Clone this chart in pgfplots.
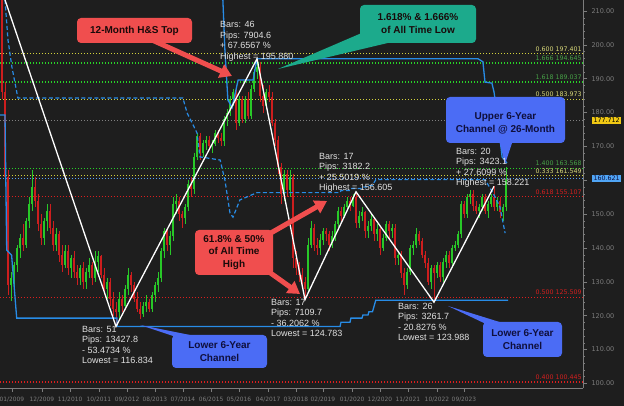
\documentclass[border=0pt]{standalone}
\usepackage{fontspec}
\setmainfont{Liberation Sans}
\newfontfamily\dvs{DejaVu Sans}
\usepackage{pgfplots}
\usepackage{pgfplotstable}
\pgfplotsset{compat=1.18}
\usetikzlibrary{arrows.meta}
\definecolor{bg}{RGB}{30,30,30}
\definecolor{cgreen}{RGB}{40,200,40}
\definecolor{cred}{RGB}{205,30,30}
\definecolor{lvlyellow}{RGB}{210,210,60}
\definecolor{lvlgreen}{RGB}{40,210,40}
\definecolor{lvlred}{RGB}{220,30,30}
\definecolor{lblyellow}{RGB}{215,215,120}
\definecolor{lblgreen}{RGB}{70,160,70}
\definecolor{lblred}{RGB}{210,30,30}
\definecolor{chblue}{RGB}{40,140,230}
\definecolor{dotblue}{RGB}{90,160,240}
\definecolor{calred}{RGB}{240,78,78}
\definecolor{calteal}{RGB}{28,170,140}
\definecolor{calblue}{RGB}{75,108,245}
\definecolor{axgray}{RGB}{125,125,125}
\definecolor{txtgray}{RGB}{225,225,225}
\definecolor{tagyellow}{RGB}{240,200,20}
\definecolor{tagblue}{RGB}{80,165,245}
\definecolor{darktxt}{RGB}{25,10,10}
\definecolor{navytxt}{RGB}{15,15,60}

\pgfplotstableread{
i o h l c
0 211.5 216 210 215
4 129 133 124.5 131
5 131 136 128 135
6 135 141 133 140
7 140 144 137 143
9 141 149 140 148
10 148 155 146 153
11 153 163 151 158
15 143 149 141 148
16 148 153 145 151
19 141 146 139 144
22 135 141 134 139
24 134 138 131 137
27 131 135 129 134
29 130 134 128 133
30 133 137 131 135
32 131 139 130 136
33 136 139 133 137.5
36 128 131 125 130
40 121 127 119 125
42 123 129 122 128
43 128 134 126 132
48 120.5 124 119.5 123
49 123 126 121 124
51 122 127 121 126
52 126 130 124 129
53 129 133 127 131
54 131 140 130 139
55 139 146 137 145
57 141 145 138 143.5
58 143.5 155 142 153
59 153 156 150 154
62 149 153 147 152
63 152 160 151 159
65 157.5 168 156 167
66 167 174 166 173
68 168 172 167 171
69 171 173 169 172
71 170 172 168 170.8
72 170.8 175 170 174
75 171.5 179 170 178
76 178 181 176 180
77 180 185 179 184
78 184 187 182 186
80 177 185 176 184
82 178 185 177 184
84 179 188 178 187
85 187 193 186 192
86 192 195.88 190 193.5
89 182 187 181 186
95 156 163 154 162
97 157 163 155 161
103 128 143 127 141
104 141 148 140 146
107 140 144 138 142.5
108 142.5 146 141 145
111 141 145 140 143.5
112 143.5 148 142 147
113 147 152 146 151
115 149.5 153 149 152
116 152 155 151 154
118 152.5 156 152 155
120 147.5 151 146 149.5
121 149.5 152 148 150.5
123 145 148 143 146.5
124 146.5 150 145 148.5
126 144 147 142 145.5
128 140 144 139 143
129 143 148 142 147
131 145 147 143 146
133 137 139 135 138
136 129 134 128 133
137 133 141 132 140
138 140 142 138 141
139 141 146 140 144
144 130 135 128 134
146 132.5 136 131 135
148 131.5 137 130 136
149 136 139 134 138
151 135.5 141 134 140
152 140 142 139 141
153 141 145 140 144
154 144 154 143 153
156 150 156 149 155
157 155 157 153 156
160 151 153 149 152
161 152 156 151 155
163 151 154 149 153
164 153 156 152 155
166 152 155 151 154
168 150.5 153 148 152
169 152 164 151 160
}\greencandles

\pgfplotstableread{
i o h l c
1 215 216 184 186
2 186 189 158 161
3 161 163 126 129
8 143 147 139 141
12 158 161 152 154
13 154 156 145 147
14 147 150 141 143
17 151 153 144 146
18 146 148 139 141
20 144 145 136 138
21 138 141 133 135
23 139 141 132 134
25 137 139 131 133
26 133 135 129 131
28 134 136 128 130
31 135 136 129 131
34 137.5 138 131 132
35 132 134 126 128
37 130 131 123 125
38 125 127 120 122
39 122 124 116.834 121
41 125 126 121 123
44 132 133 127 129
45 129 130 124 125
46 125 127 121 122
47 122 124 119 120.5
50 124 125 121 122
56 145 146 139 141
60 154 155 148 150
61 150 151 146 149
64 159 161 155 157.5
67 173 174 166 168
70 172 173 169 170
73 174 175 171 172.5
74 172.5 174 170 171.5
79 186 187 175 177
81 184 185 177 178
83 184 186 178 179
87 193.5 195 183 185
88 185 188 180 182
90 186 188 183 184.5
91 184.5 186 176 177
92 177 178 170 172
93 172 173 162 164
94 164 165 153 156
96 162 163 155 157
98 161 162 134 137
99 137 139 132 134
100 134 136 130 132
101 132 134 128 130
102 130 131.5 124.783 128
105 146 147 139 141
106 141 143 138 140
109 145 146 142 144
110 144 145 139 141
114 151 152 148 149.5
117 154 155 151 152.5
119 155 156.605 146 147.5
122 150.5 151 143 145
125 148.5 149 142 144
127 145.5 146 138 140
130 147 148 143 145
132 146 147 135 137
134 138 139 131 132.5
135 132.5 134 126 129
140 144 145 141 142
141 142 143 137 138
142 138 139 134 135.5
143 135.5 137 129 130
145 134 135 123.988 132.5
147 135 136 130 131.5
150 138 139 134 135.5
155 153 154 149 150
158 156 157 151 152.5
159 152.5 154 150 151
162 155 156 150 151
165 155 158.221 151 152
167 154 155 149 150.5
}\redcandles

\begin{document}
\begin{tikzpicture}
\useasboundingbox (0pt,0pt) rectangle (624pt,406pt);
\fill[bg] (0pt,0pt) rectangle (624pt,406pt);
\begin{axis}[
  at={(0pt,18pt)}, anchor=south west,
  scale only axis, width=583pt, height=388pt,
  xmin=0.3333, xmax=194.6667, ymin=98.66, ymax=213.25,
  axis x line*=bottom, axis y line*=right,
  axis line style={-, draw=axgray, line width=0.6pt},
  ytick={100,110,...,210},
  yticklabels={100.00,110.00,120.00,130.00,140.00,150.00,{},170.00,180.00,190.00,200.00,210.00},
  xtick={4.33,14.33,23.67,33.33,42.67,52,61.33,70.67,80,89.67,99,108,117.67,127,136.33,146,155},
  xticklabels={01/2009,12/2009,11/2010,10/2011,09/2012,08/2013,07/2014,06/2015,05/2016,04/2017,03/2018,02/2019,01/2020,12/2020,11/2021,10/2022,09/2023},
  minor x tick num=2, minor y tick num=4,
  tick align=outside,
  major tick length=4pt, minor tick length=2pt,
  tick style={draw=axgray, line width=0.5pt},
  yticklabel style={font=\dvs\fontsize{6.5}{7}\selectfont, text=axgray, xshift=1pt},
  xticklabel style={font=\dvs\fontsize{5.9}{6.5}\selectfont, text=axgray, yshift=-1.5pt},
  clip mode=individual,
]
% level lines
\addplot[lvlyellow, line width=1.1pt, dash pattern=on 1.3pt off 1.7pt] coordinates {(0.3333,197.401) (194.4,197.401)};
\addplot[lvlgreen, line width=1.1pt, dash pattern=on 1.3pt off 1.7pt] coordinates {(0.3333,194.645) (194.4,194.645)};
\addplot[lvlgreen, line width=1.1pt, dash pattern=on 1.3pt off 1.7pt] coordinates {(0.3333,189.037) (194.4,189.037)};
\addplot[lvlyellow, line width=1.1pt, dash pattern=on 1.3pt off 1.7pt] coordinates {(0.3333,183.973) (194.4,183.973)};
\addplot[gray, line width=0.9pt, dash pattern=on 1.3pt off 1.7pt] coordinates {(0.3333,177.712) (194.4,177.712)};
\addplot[lvlgreen, line width=1.1pt, dash pattern=on 1.3pt off 1.7pt] coordinates {(0.3333,163.568) (194.4,163.568)};
\addplot[lvlyellow, line width=1.1pt, dash pattern=on 1.3pt off 1.7pt] coordinates {(0.3333,161.549) (194.4,161.549)};
\addplot[dotblue, line width=1.0pt, dash pattern=on 1.3pt off 1.7pt] coordinates {(0.3333,160.621) (194.4,160.621)};
\addplot[lvlred, line width=1.1pt, dash pattern=on 1.3pt off 1.7pt] coordinates {(0.3333,155.107) (194.4,155.107)};
\addplot[lvlred, line width=1.1pt, dash pattern=on 1.3pt off 1.7pt] coordinates {(0.3333,125.509) (194.4,125.509)};
\addplot[lvlred, line width=1.1pt, dash pattern=on 1.3pt off 1.7pt] coordinates {(0.3333,100.445) (194.4,100.445)};
% candles: wicks and bodies
\addplot[draw=none, mark=none, forget plot, error bars/.cd, y dir=both, y explicit, error mark=none,
  error bar style={draw=cgreen, line width=0.8pt, solid}]
  table[x=i, y expr={(\thisrow{h}+\thisrow{l})/2}, y error expr={(\thisrow{h}-\thisrow{l})/2}] {\greencandles};
\addplot[draw=none, mark=none, forget plot, error bars/.cd, y dir=both, y explicit, error mark=none,
  error bar style={draw=cgreen, line width=2.5pt, solid}]
  table[x=i, y expr={(\thisrow{o}+\thisrow{c})/2}, y error expr={(\thisrow{c}-\thisrow{o})/2}] {\greencandles};
\addplot[draw=none, mark=none, forget plot, error bars/.cd, y dir=both, y explicit, error mark=none,
  error bar style={draw=cred, line width=0.8pt, solid}]
  table[x=i, y expr={(\thisrow{h}+\thisrow{l})/2}, y error expr={(\thisrow{h}-\thisrow{l})/2}] {\redcandles};
\addplot[draw=none, mark=none, forget plot, error bars/.cd, y dir=both, y explicit, error mark=none,
  error bar style={draw=cred, line width=2.5pt, solid}]
  table[x=i, y expr={(\thisrow{o}+\thisrow{c})/2}, y error expr={(\thisrow{o}-\thisrow{c})/2}] {\redcandles};
% channel lines
\addplot[chblue, line width=1.3pt] coordinates {(0.3333,179.3) (2,179.3) (2.57,139.4) (4.2,137.9) (5.9,119.3) (39.3,119.3) (39.4,116.834) (113.7,116.834) (114,118.1) (117,118.1) (117.3,119.3) (121,119.3) (121.3,120.2) (123,120.2) (123.3,121.2) (124.5,121.2) (125.6,124.6) (169.7,124.6)};
\addplot[chblue, line width=1.3pt] coordinates {(74.5,216) (75.3,198.5) (76.3,183.7) (77.7,181.5) (79.7,189.6) (84.7,189.6) (86,195.88) (159.7,195.88) (161.3,195) (162,189) (164.3,188.7) (165,186.1) (166,179.9) (167.7,166.9) (169.3,165.1)};
\addplot[chblue, line width=1.2pt, dash pattern=on 4pt off 2.5pt] coordinates {(2,213.25) (3,201.4) (4.3,193.5) (6.3,184.3) (61.3,184.3) (62.7,179.9) (66,174.0) (67,166.9) (69.3,166.6) (73.7,166.0) (75.3,160.1) (77,150.3) (78,149.1) (80.3,154.2) (86,156.36) (113.7,156.36) (114,157) (117,157) (117.3,157.6) (121,157.6) (121.3,158) (123,158) (123.3,158.5) (124.5,158.5) (125.6,160.2) (162,160.2) (164.7,156.2) (167,152.1) (168.7,144.4)};
% zigzag
\addplot[white, line width=1.3pt] coordinates {(0.5,217.2) (39,116.834) (86,195.88) (102,124.783) (119,156.605) (145,123.988) (165,158.221)};
% level labels
\begin{scope}[every node/.style={anchor=south east, inner sep=0pt, font=\dvs\fontsize{6.3}{7}\selectfont}]
\node[text=lblyellow] at (axis cs:194.3,198.1) {0.600 197.401};
\node[text=lblgreen] at (axis cs:194.3,195.3) {1.666 194.645};
\node[text=lblgreen] at (axis cs:194.3,189.7) {1.618 189.037};
\node[text=lblyellow] at (axis cs:194.3,184.6) {0.500 183.973};
\node[text=lblgreen] at (axis cs:194.3,164.2) {1.400 163.568};
\node[text=lblyellow] at (axis cs:194.3,162.0) {0.333 161.549};
\node[text=lblred] at (axis cs:194.3,155.8) {0.618 155.107};
\node[text=lblred] at (axis cs:194.3,126.2) {0.500 125.509};
\node[text=lblred] at (axis cs:194.3,101.1) {0.400 100.445};
\end{scope}
% price tags on the axis
\node[fill=tagyellow, text=black, inner xsep=1.5pt, inner ysep=1pt, anchor=west, font=\dvs\fontsize{6.3}{7}\selectfont] at ([xshift=9pt]axis cs:194.6667,177.712) {177.712};
\node[fill=tagblue, text=navytxt, inner xsep=1.5pt, inner ysep=1pt, anchor=west, font=\dvs\fontsize{6.3}{7}\selectfont] at ([xshift=9pt]axis cs:194.6667,160.621) {160.621};
\end{axis}

\begin{scope}[shift={(0pt,406pt)}, x=1pt, y=-1pt]
% 12-Month H&S Top
\draw[calred, line width=5pt, -{Triangle[length=12pt,width=14pt]}] (152,40) -- (232,76);
\fill[calred, rounded corners=4pt] (77,18) rectangle (192,43);
\node[font=\bfseries\fontsize{10}{12}\selectfont, text=darktxt] at (134.5,30.5) {12-Month H\&S Top};
% teal callout
\fill[calteal] (278,69) -- (364,32) -- (392,42) -- cycle;
\fill[calteal, rounded corners=4pt] (360,5) rectangle (476,43);
\node[align=center, font=\bfseries\fontsize{10}{13}\selectfont, text=darktxt] at (418,24) {1.618\% \& 1.666\%\\of All Time Low};
% 61.8 % callout
\draw[calred, line width=5pt, -{Triangle[length=12pt,width=14pt]}] (262,238) -- (327,201);
\draw[calred, line width=5pt, -{Triangle[length=12pt,width=14pt]}] (262,267) -- (300,294);
\fill[calred, rounded corners=4pt] (195,230) rectangle (273,275);
\node[align=center, font=\bfseries\fontsize{10}{12.5}\selectfont, text=darktxt] at (234,252.5) {61.8\% \& 50\%\\of All Time\\High};
% lower channel left
\fill[calblue] (140,325) -- (176,337) -- (200,337) -- cycle;
\fill[calblue, rounded corners=4pt] (172,335) rectangle (267,368);
\node[align=center, font=\bfseries\fontsize{10}{12.5}\selectfont, text=navytxt] at (219.5,351.5) {Lower 6-Year\\Channel};
% lower channel right
\fill[calblue] (448,306) -- (486,324) -- (506,324) -- cycle;
\fill[calblue, rounded corners=4pt] (483,322) rectangle (562,357);
\node[align=center, font=\bfseries\fontsize{10}{12.5}\selectfont, text=navytxt] at (522.5,339.5) {Lower 6-Year\\Channel};
% upper channel
\fill[calblue] (499,140) -- (513,140) -- (505,164) -- cycle;
\fill[calblue, rounded corners=4pt] (446,97) rectangle (565,143);
\node[align=center, font=\bfseries\fontsize{10}{12.5}\selectfont, text=navytxt] at (505.5,123.5) {Upper 6-Year\\Channel @ 26-Month};
% swing statistics
\begin{scope}[every node/.style={anchor=north west, align=left, inner sep=0pt, text=txtgray, font=\fontsize{9}{10.5}\selectfont}]
\node at (220,21.5) {Bars: 46\\Pips: 7904.6\\+ 67.6567 \%\\Highest = 195.880};
\node at (82,326) {Bars: 51\\Pips: 13427.8\\- 53.4734 \%\\Lowest = 116.834};
\node at (271,299) {Bars: 17\\Pips: 7109.7\\- 36.2062 \%\\Lowest = 124.783};
\node at (319,153) {Bars: 17\\Pips: 3182.2\\+ 25.5019 \%\\Highest = 156.605};
\node at (398,303) {Bars: 26\\Pips: 3261.7\\- 20.8276 \%\\Lowest = 123.988};
\node at (456,148) {Bars: 20\\Pips: 3423.1\\+ 27.6099 \%\\Highest = 158.221};
\end{scope}
\end{scope}
\end{tikzpicture}
\end{document}
